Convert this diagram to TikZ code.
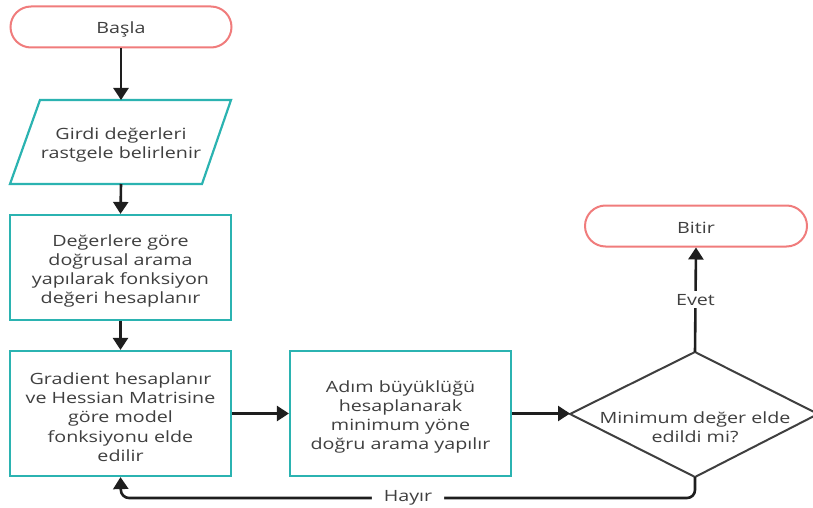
\documentclass[tikz,border=0pt]{standalone}
\usepackage{fontspec}
\setmainfont{Open Sans}[FakeStretch=1.27]
\usetikzlibrary{arrows.meta,shapes.geometric}
\definecolor{pillc}{HTML}{F07C7C}
\definecolor{boxc}{HTML}{2BB3B1}
\definecolor{txtc}{HTML}{3F3F3F}
\definecolor{linec}{HTML}{1E1E1E}
\tikzset{
  pill/.style={draw=pillc, line width=2pt, rounded corners=20.5pt, fill=white, minimum width=221pt, minimum height=41pt, inner sep=0pt},
  procbox/.style={draw=boxc, line width=2.2pt, fill=white, minimum width=221pt, inner sep=0pt, align=center},
  lbl/.style={text=txtc, font=\fontsize{15.5}{19.3}\selectfont, align=center},
  conn/.style={draw=linec, line width=2.6pt, -{Triangle[width=15pt,length=12pt]}},
}
\begin{document}
\begin{tikzpicture}[x=1pt,y=-1pt]
\useasboundingbox (0,0) rectangle (813,508);
% Start
\node[pill] (start) at (121,27) {};
\node[lbl] (startt) at (121,29) {Başla};
% Parallelogram
\coordinate (p1) at (40,100);
\coordinate (p2) at (231,100);
\coordinate (p3) at (202,184);
\coordinate (p4) at (10,184);
\draw[draw=boxc, line width=2.2pt, fill=white] (p1) -- (p2) -- (p3) -- (p4) -- cycle;
\node[lbl] (input) at (121,145) {Girdi değerleri\\rastgele belirlenir};
\coordinate (intop) at (121,100);
\coordinate (inbot) at (121,184);
% Box 2
\node[procbox, minimum height=105pt] (b2) at (120.5,267.5) {};
\node[lbl] (b2t) at (120.5,271) {Değerlere göre\\doğrusal arama\\yapılarak fonksiyon\\değeri hesaplanır};
% Box 3
\node[procbox, minimum height=125pt] (b3) at (120.5,413.5) {};
\node[lbl] (b3t) at (120.5,417) {Gradient hesaplanır\\ve Hessian Matrisine\\göre model\\fonksiyonu elde\\edilir};
% Box 4
\node[procbox, minimum height=125pt] (b4) at (400.5,413.5) {};
\node[lbl] (b4t) at (400.5,417) {Adım büyüklüğü\\hesaplanarak\\minimum yöne\\doğru arama yapılır};
% Diamond
\coordinate (dl) at (570,414);
\coordinate (dt) at (695,352);
\coordinate (dr) at (818,414);
\coordinate (db) at (695,477);
\draw[draw=txtc, line width=2pt, fill=white] (dl) -- (dt) -- (dr) -- (db) -- cycle;
\node[lbl] (dtext) at (695,427) {Minimum değer elde\\edildi mi?};
% End
\node[pill, minimum width=222pt] (stop) at (696,226) {};
\node[lbl] (stopt) at (696,228) {Bitir};
% connectors
\draw[conn] (start.south) -- (intop);
\draw[conn] (inbot) -- (b2.north);
\draw[conn] (b2.south) -- (b3.north);
\draw[conn] (b3.east) -- (b4.west);
\draw[conn] (b4.east) -- (b4.east -| dl);
\draw[conn] (dt) -- node[fill=white, lbl, inner sep=3pt, pos=0.5] (evet) {Evet} (stop.south);
\coordinate (c1) at (695,498);
\coordinate (c2) at (121,498);
\draw[conn, rounded corners=8pt] (db) -- (c1) -- node[fill=white, lbl, inner xsep=12pt, inner ysep=2pt, pos=0.5] (hayir) {Hayır} (c2) -- (b3.south);
\end{tikzpicture}
\end{document}
